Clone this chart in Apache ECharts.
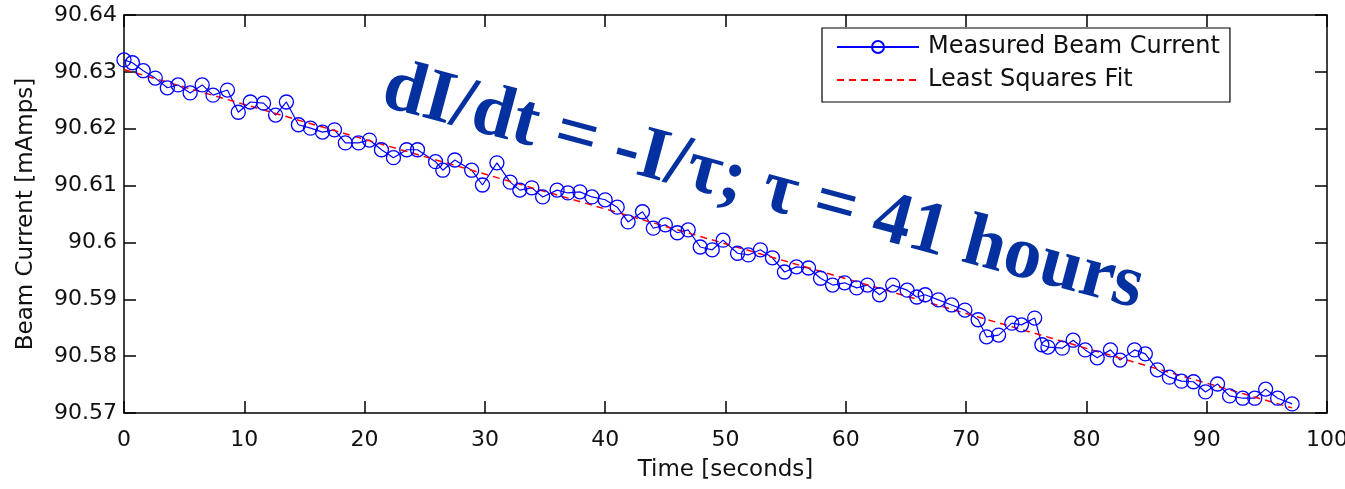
<!DOCTYPE html>
<html>
<head>
<meta charset="utf-8">
<title>Beam Current Decay</title>
<script src="https://cdn.jsdelivr.net/npm/echarts@6/dist/echarts.min.js"></script>
<style>
  html, body { margin: 0; padding: 0; background: #fff; }
  #chart { width: 1345px; height: 489px; }
</style>
</head>
<body>
<div id="chart"></div>
<script>
// 测量时间（秒）
const timeSec = [0, 0.7, 1.6, 2.6, 3.6, 4.5, 5.5, 6.5, 7.4, 8.6, 9.5, 10.5, 11.6, 12.6, 13.5, 14.5, 15.5, 16.5, 17.5, 18.4,
  19.5, 20.4, 21.4, 22.4, 23.5, 24.4, 25.9, 26.5, 27.5, 28.9, 29.8, 31.0, 32.1, 32.9, 33.9, 34.8, 36.0, 36.9, 37.9, 38.9,
  40.0, 41.0, 41.9, 43.1, 44.0, 45.0, 46.0, 46.9, 47.9, 48.9, 49.8, 51.0, 51.9, 52.9, 53.9, 54.9, 55.9, 56.9, 57.9, 58.9,
  59.9, 60.9, 61.8, 62.8, 63.9, 65.1, 65.9, 66.6, 67.7, 68.8, 69.9, 71.0, 71.7, 72.7, 73.8, 74.6, 75.7, 76.3, 76.8, 78.0,
  78.9, 79.9, 80.9, 82.0, 82.8, 84.0, 84.9, 85.9, 86.9, 87.9, 88.9, 89.9, 90.9, 91.9, 93.0, 94.0, 94.9, 95.9, 97.1]

// 测量束流（mAmps）
const beamCurrent = [90.6321, 90.6316, 90.6302, 90.6289, 90.6272, 90.6277, 90.6263, 90.6277, 90.6259, 90.6268,
  90.6229, 90.6247, 90.6245, 90.6224, 90.6247, 90.6207, 90.6201, 90.6194, 90.6198, 90.6175,
  90.6175, 90.6180, 90.6163, 90.6149, 90.6163, 90.6163, 90.6142, 90.6127, 90.6145, 90.6127,
  90.6101, 90.6140, 90.6106, 90.6092, 90.6096, 90.6080, 90.6092, 90.6087, 90.6089, 90.6080,
  90.6075, 90.6062, 90.6036, 90.6054, 90.6025, 90.6031, 90.6017, 90.6022, 90.5992, 90.5987,
  90.6004, 90.5981, 90.5978, 90.5987, 90.5973, 90.5948, 90.5957, 90.5955, 90.5937, 90.5925,
  90.5929, 90.5920, 90.5925, 90.5908, 90.5925, 90.5916, 90.5904, 90.5908, 90.5899, 90.5890,
  90.5881, 90.5864, 90.5834, 90.5837, 90.5858, 90.5855, 90.5867, 90.5820, 90.5816, 90.5814,
  90.5828, 90.5811, 90.5797, 90.5811, 90.5793, 90.5811, 90.5804, 90.5776, 90.5763, 90.5756,
  90.5755, 90.5737, 90.5751, 90.5730, 90.5726, 90.5726, 90.5742, 90.5726, 90.5716]

// 最小二乘拟合线端点
const fitTime = [0, 97.1]
const fitCurrent = [90.6304, 90.5709]

// 坐标轴刻度
const xTicks = { min: 0, max: 100, interval: 10 }
const yTicks = { min: 90.57, max: 90.64, interval: 0.01 }

const FONT = '"DejaVu Sans", Verdana, sans-serif'
const TEXT_COLOR = '#111'
const AXIS_COLOR = '#000'

const chart = echarts.init(document.getElementById('chart'), null, { renderer: 'canvas' })

// 公共坐标轴样式（MATLAB 风格：刻度朝内，四边封闭）
const axisBase = {
  axisLine: { show: true, onZero: false, lineStyle: { color: AXIS_COLOR, width: 1.5 } },
  axisTick: { show: true, inside: true, length: 12, lineStyle: { color: AXIS_COLOR, width: 1.5 } },
  splitLine: { show: false },
}

const option = {
  backgroundColor: '#fff',
  animation: false,
  // 固定绘图区，不让标签挤压网格
  grid: { left: 124, right: 18, top: 15, bottom: 76, outerBoundsMode: 'none' },
  legend: {
    orient: 'vertical',
    left: 822,
    top: 28,
    itemWidth: 82,
    itemHeight: 15,
    itemGap: 9,
    padding: [7, 10, 10, 14],
    backgroundColor: '#fff',
    borderColor: '#000',
    borderWidth: 1.2,
    borderRadius: 0,
    textStyle: { fontFamily: FONT, fontSize: 24, color: TEXT_COLOR, padding: [0, 0, 0, 4] },
    data: [
      { name: 'Measured Beam Current' },
      // 拟合线只显示虚线，不显示标记
      { name: 'Least Squares Fit', itemStyle: { opacity: 0 } },
    ],
  },
  xAxis: [
    {
      ...axisBase,
      type: 'value',
      ...xTicks,
      name: 'Time [seconds]',
      nameLocation: 'middle',
      nameGap: 46,
      nameTextStyle: { fontFamily: FONT, fontSize: 23, color: TEXT_COLOR },
      axisLabel: { fontFamily: FONT, fontSize: 22, color: TEXT_COLOR, margin: 16 },
    },
    {
      ...axisBase,
      type: 'value',
      position: 'top',
      ...xTicks,
      axisLabel: { show: false },
    },
  ],
  yAxis: [
    {
      ...axisBase,
      type: 'value',
      ...yTicks,
      name: 'Beam Current [mAmps]',
      nameLocation: 'middle',
      nameGap: 86,
      nameTextStyle: { fontFamily: FONT, fontSize: 23, color: TEXT_COLOR },
      axisLabel: { fontFamily: FONT, fontSize: 22, color: TEXT_COLOR, margin: 7 },
    },
    {
      ...axisBase,
      type: 'value',
      position: 'right',
      ...yTicks,
      axisLabel: { show: false },
    },
  ],
  graphic: [
    {
      type: 'text',
      x: 763,
      y: 188,
      rotation: -15 * Math.PI / 180,
      z: 10,
      style: {
        text: 'dI/dt = -I/τ; τ = 41 hours',
        font: 'bold 75px "Liberation Serif", "Times New Roman", serif',
        fill: '#0530a0',
        align: 'center',
        verticalAlign: 'middle',
      },
    },
  ],
  series: [
    {
      name: 'Measured Beam Current',
      type: 'line',
      data: timeSec.map((t, i) => [t, beamCurrent[i]]),
      symbol: 'circle',
      symbolSize: 14,
      showAllSymbol: true,
      lineStyle: { color: '#0000ff', width: 1.2 },
      itemStyle: { color: 'rgba(255,255,255,0)', borderColor: '#0000ff', borderWidth: 1.3 },
      emphasis: { disabled: true },
    },
    {
      name: 'Least Squares Fit',
      type: 'line',
      data: fitTime.map((t, i) => [t, fitCurrent[i]]),
      symbol: 'none',
      lineStyle: { color: '#ff0000', width: 1.5, type: [7, 5] },
      itemStyle: { color: '#ff0000' },
      emphasis: { disabled: true },
    },
  ],
}

chart.setOption(option)
</script>
</body>
</html>
